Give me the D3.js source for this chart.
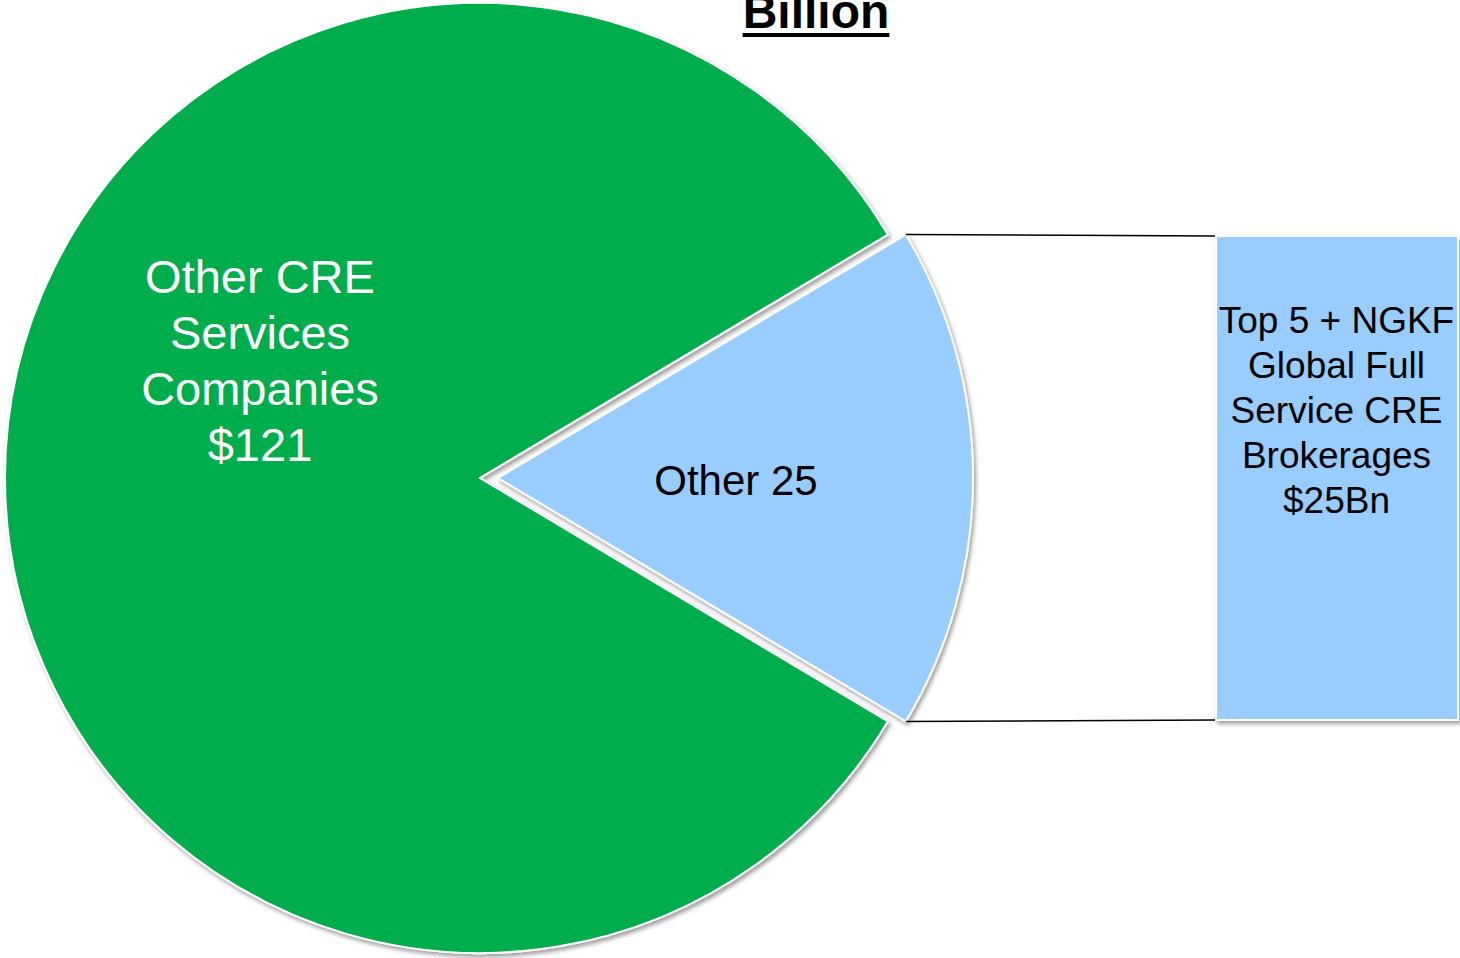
<!DOCTYPE html>
<html>
<head>
<meta charset="utf-8">
<script src="https://cdn.jsdelivr.net/npm/d3@7/dist/d3.min.js"></script>
<style>
  html, body { margin: 0; padding: 0; background: #ffffff; }
  svg { display: block; }
  text { font-family: "Liberation Sans", Arial, sans-serif; }
</style>
</head>
<body>
<svg id="chart" width="1460" height="958"></svg>
<script>
// Revenue split, $ billion
const categories = ["Other CRE Services Companies", "Other"];
const values = [121, 25];
const sliceLabels = [["Other CRE", "Services", "Companies", "$121"], ["Other 25"]];
const barValue = 25;
const barLabel = ["Top 5 + NGKF", "Global Full", "Service CRE", "Brokerages", "$25Bn"];
const title = "Billion";

const width = 1460, height = 958;
const svg = d3.select("#chart");

const defs = svg.append("defs");
const f = defs.append("filter").attr("id", "shadow")
  .attr("x", "-5%").attr("y", "-5%").attr("width", "110%").attr("height", "110%");
f.append("feDropShadow").attr("dx", 2).attr("dy", 3).attr("stdDeviation", 2.2)
  .attr("flood-color", "#000").attr("flood-opacity", 0.38);

const colors = d3.scaleOrdinal().domain(categories).range(["#00AD4E", "#99CCFF"]);

const cx = 480, cy = 478, radius = 475, explode = 18;
const smallShare = values[1] / d3.sum(values);
const start = Math.PI / 2 + smallShare * Math.PI;

const pie = d3.pie().sort(null).value(d => d.value)
  .startAngle(start).endAngle(start + 2 * Math.PI);
const arcs = pie(categories.map((c, i) => ({ cat: c, value: values[i], label: sliceLabels[i] })));
const arc = d3.arc().innerRadius(0).outerRadius(radius);

const offsetOf = (d, i) => {
  if (i === 0) return [0, 0];
  const mid = (d.startAngle + d.endAngle) / 2;
  return [Math.sin(mid) * explode, -Math.cos(mid) * explode];
};

const g = svg.append("g").attr("transform", `translate(${cx},${cy})`);

// connector lines from the split slice to the bar
const bx0 = 1216, bx1 = 1458, by0 = 236, by1 = 720;
const small = arcs[1];
const so = offsetOf(small, 1);
const edgePt = a => [cx + so[0] + Math.sin(a) * radius, cy + so[1] - Math.cos(a) * radius];
const pTop = edgePt(small.startAngle);
const pBot = edgePt(small.endAngle);
svg.append("line").attr("x1", pTop[0]).attr("y1", pTop[1]).attr("x2", bx0).attr("y2", by0)
  .attr("stroke", "#000").attr("stroke-width", 1.5);
svg.append("line").attr("x1", pBot[0]).attr("y1", pBot[1]).attr("x2", bx0).attr("y2", by1)
  .attr("stroke", "#000").attr("stroke-width", 1.5);

// slices
g.selectAll("path.slice").data(arcs).join("path")
  .attr("class", "slice")
  .attr("transform", (d, i) => `translate(${offsetOf(d, i)})`)
  .attr("d", arc)
  .attr("fill", d => colors(d.data.cat))
  .attr("stroke", "#ffffff").attr("stroke-width", 2)
  .attr("filter", "url(#shadow)");

// slice labels
const labelPos = [[260 - cx, 0], [736 - cx, 0]];
const labelFont = [47, 42];
const labelFill = ["#ffffff", "#000000"];
const labelTop = [293 - cy, 495 - cy];
arcs.forEach((d, i) => {
  const t = g.append("text").attr("text-anchor", "middle")
    .attr("font-size", labelFont[i]).attr("fill", labelFill[i]);
  d.data.label.forEach((line, k) => {
    t.append("tspan").attr("x", labelPos[i][0]).attr("y", labelTop[i] + k * 56).text(line);
  });
});

// stacked bar for the split slice
const yBar = d3.scaleLinear().domain([0, barValue]).range([by1, by0]);
svg.append("rect")
  .attr("x", bx0).attr("width", bx1 - bx0)
  .attr("y", yBar(barValue)).attr("height", yBar(0) - yBar(barValue))
  .attr("fill", colors(categories[1]))
  .attr("stroke", "#ffffff").attr("stroke-width", 2)
  .attr("filter", "url(#shadow)");

const bt = svg.append("text").attr("text-anchor", "middle").attr("font-size", 37).attr("fill", "#000");
barLabel.forEach((line, k) => {
  bt.append("tspan").attr("x", (bx0 + bx1) / 2 - 0.5).attr("y", 333 + k * 45).text(line);
});

// title
const tt = svg.append("text").attr("x", 816).attr("y", 28).attr("text-anchor", "middle")
  .attr("font-size", 48).attr("font-weight", "bold").attr("fill", "#000").text(title);
const tw = tt.node().getComputedTextLength();
svg.append("rect").attr("x", 816 - tw / 2).attr("y", 33).attr("width", tw).attr("height", 4).attr("fill", "#000");
</script>
</body>
</html>
